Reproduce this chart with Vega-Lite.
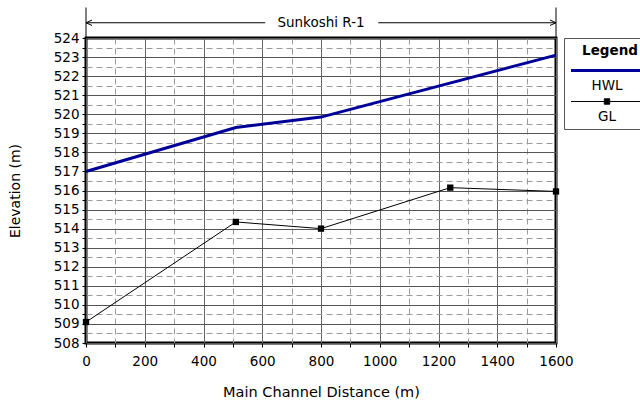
{
  "$schema": "https://vega.github.io/schema/vega-lite/v6.json",
  "width": 470,
  "height": 305,
  "autosize": {"type": "none"},
  "padding": {"left": 86, "top": 38, "right": 84, "bottom": 60},
  "background": "white",
  "config": {
    "font": "DejaVu Sans",
    "view": {"stroke": "black", "strokeWidth": 3},
    "axis": {"labelFont": "DejaVu Sans", "titleFont": "DejaVu Sans", "titleFontWeight": "normal", "labelColor": "black", "titleColor": "black"}
  },
  "resolve": {"axis": {"x": "independent", "y": "independent"}, "scale": {"x": "shared", "y": "shared"}},
  "data": {
    "values": [
      {"distance": 0, "elevation": 517.0, "series": "HWL"},
      {"distance": 510, "elevation": 519.3, "series": "HWL"},
      {"distance": 800, "elevation": 519.85, "series": "HWL"},
      {"distance": 1600, "elevation": 523.1, "series": "HWL"},
      {"distance": 0, "elevation": 509.1, "series": "GL"},
      {"distance": 510, "elevation": 514.35, "series": "GL"},
      {"distance": 800, "elevation": 514.0, "series": "GL"},
      {"distance": 1240, "elevation": 516.15, "series": "GL"},
      {"distance": 1600, "elevation": 515.95, "series": "GL"}
    ]
  },
  "layer": [
    {
      "encoding": {
        "x": {
          "field": "distance", "type": "quantitative",
          "scale": {"domain": [0, 1600], "nice": false, "zero": false},
          "axis": {
            "title": "Main Channel Distance (m)",
            "titleFontSize": 14.5, "titlePadding": 18,
            "values": [0,100,200,300,400,500,600,700,800,900,1000,1100,1200,1300,1400,1500,1600],
            "labelExpr": "datum.value % 200 === 0 ? format(datum.value, 'd') : ''",
            "labelFontSize": 13.5, "labelPadding": 7, "labelOverlap": false, "labelFlush": false,
            "tickSize": 4, "tickColor": "black", "domain": false,
            "grid": true,
            "gridColor": {"condition": {"test": "datum.value % 200 === 0", "value": "#666666"}, "value": "#9a9a9a"},
            "gridDash": {"condition": {"test": "datum.value % 200 === 0", "value": []}, "value": [6, 4]},
            "gridWidth": 1
          }
        },
        "y": {
          "field": "elevation", "type": "quantitative",
          "scale": {"domain": [508, 524], "nice": false, "zero": false},
          "axis": {
            "title": "Elevation (m)",
            "titleFontSize": 14, "titlePadding": 31,
            "values": [508,508.5,509,509.5,510,510.5,511,511.5,512,512.5,513,513.5,514,514.5,515,515.5,516,516.5,517,517.5,518,518.5,519,519.5,520,520.5,521,521.5,522,522.5,523,523.5,524],
            "labelExpr": "datum.value % 1 === 0 ? format(datum.value, 'd') : ''",
            "labelFontSize": 13.5, "labelPadding": 3, "labelOverlap": false, "labelFlush": false,
            "tickSize": 4, "tickColor": "black", "domain": false,
            "grid": true,
            "gridColor": {"condition": {"test": "datum.value % 1 === 0", "value": "#555555"}, "value": "#9a9a9a"},
            "gridDash": {"condition": {"test": "datum.value % 1 === 0", "value": []}, "value": [6, 4]},
            "gridWidth": 1
          }
        }
      },
      "layer": [
        {
          "transform": [{"filter": "datum.series === 'HWL'"}],
          "mark": {"type": "line", "strokeWidth": 3},
          "encoding": {
            "color": {
              "field": "series", "type": "nominal",
              "scale": {"domain": ["HWL", "GL"], "range": ["#000099", "#000000"]},
              "legend": {
                "orient": "none", "legendX": 478, "legendY": 0,
                "title": "Legend", "titleFontWeight": "bold", "titleFontSize": 13.5, "titleFont": "DejaVu Sans",
                "titleAnchor": "middle", "titleColor": "black", "titlePadding": 13,
                "strokeColor": "#555555", "padding": 6, "rowPadding": 4,
                "labelFont": "DejaVu Sans", "labelFontSize": 13.5, "labelColor": "black",
                "symbolSize": 144,
                "encode": {
                  "symbols": {"update": {
                    "shape": {"signal": "datum.value === 'HWL' ? 'M-6,0L6,0' : 'M-6,0L6,0M-0.45,-0.45L0.45,-0.45L0.45,0.45L-0.45,0.45Z'"},
                    "strokeWidth": {"signal": "datum.value === 'HWL' ? 3 : 1"},
                    "fill": {"signal": "datum.value === 'HWL' ? 'transparent' : 'black'"},
                    "fillOpacity": {"value": 1},
                    "x": {"value": 37},
                    "y": {"value": 0}
                  }},
                  "labels": {"update": {
                    "x": {"value": 37},
                    "y": {"value": 15},
                    "align": {"value": "center"},
                    "baseline": {"value": "middle"}
                  }}
                }
              }
            }
          }
        },
        {
          "transform": [{"filter": "datum.series === 'GL'"}],
          "mark": {"type": "line", "strokeWidth": 1},
          "encoding": {"color": {"field": "series", "type": "nominal"}}
        },
        {
          "transform": [{"filter": "datum.series === 'GL'"}],
          "mark": {"type": "point", "shape": "square", "filled": true, "size": 40, "color": "black", "opacity": 1}
        }
      ]
    },
    {
      "data": {"values": [{}]},
      "mark": {"type": "rule", "color": "black", "strokeWidth": 1, "clip": false},
      "encoding": {
        "x": {"datum": 0, "type": "quantitative", "axis": null},
        "y": {"datum": 524, "type": "quantitative", "axis": null},
        "y2": {"datum": 525.6}
      }
    },
    {
      "data": {"values": [{}]},
      "mark": {"type": "rule", "color": "black", "strokeWidth": 1, "clip": false},
      "encoding": {
        "x": {"datum": 1600, "type": "quantitative", "axis": null},
        "y": {"datum": 524, "type": "quantitative", "axis": null},
        "y2": {"datum": 525.6}
      }
    },
    {
      "data": {"values": [{}]},
      "mark": {"type": "rule", "color": "black", "strokeWidth": 1, "clip": false},
      "encoding": {
        "x": {"datum": 0, "type": "quantitative", "axis": null},
        "x2": {"datum": 610},
        "y": {"datum": 524.8, "type": "quantitative", "axis": null}
      }
    },
    {
      "data": {"values": [{}]},
      "mark": {"type": "rule", "color": "black", "strokeWidth": 1, "clip": false},
      "encoding": {
        "x": {"datum": 995, "type": "quantitative", "axis": null},
        "x2": {"datum": 1600},
        "y": {"datum": 524.8, "type": "quantitative", "axis": null}
      }
    },
    {
      "data": {"values": [{}]},
      "mark": {"type": "point", "shape": "M2,-0.9L0,0L2,0.9", "filled": false, "stroke": "black", "strokeWidth": 1, "size": 36, "opacity": 1, "clip": false},
      "encoding": {
        "x": {"datum": 0, "type": "quantitative", "axis": null},
        "y": {"datum": 524.8, "type": "quantitative", "axis": null}
      }
    },
    {
      "data": {"values": [{}]},
      "mark": {"type": "point", "shape": "M-2,-0.9L0,0L-2,0.9", "filled": false, "stroke": "black", "strokeWidth": 1, "size": 36, "opacity": 1, "clip": false},
      "encoding": {
        "x": {"datum": 1600, "type": "quantitative", "axis": null},
        "y": {"datum": 524.8, "type": "quantitative", "axis": null}
      }
    },
    {
      "data": {"values": [{}]},
      "mark": {"type": "text", "text": "Sunkoshi R-1", "font": "DejaVu Sans", "fontSize": 13.5, "color": "black", "baseline": "middle", "align": "center", "clip": false},
      "encoding": {
        "x": {"datum": 800, "type": "quantitative", "axis": null},
        "y": {"datum": 524.8, "type": "quantitative", "axis": null}
      }
    }
  ]
}
